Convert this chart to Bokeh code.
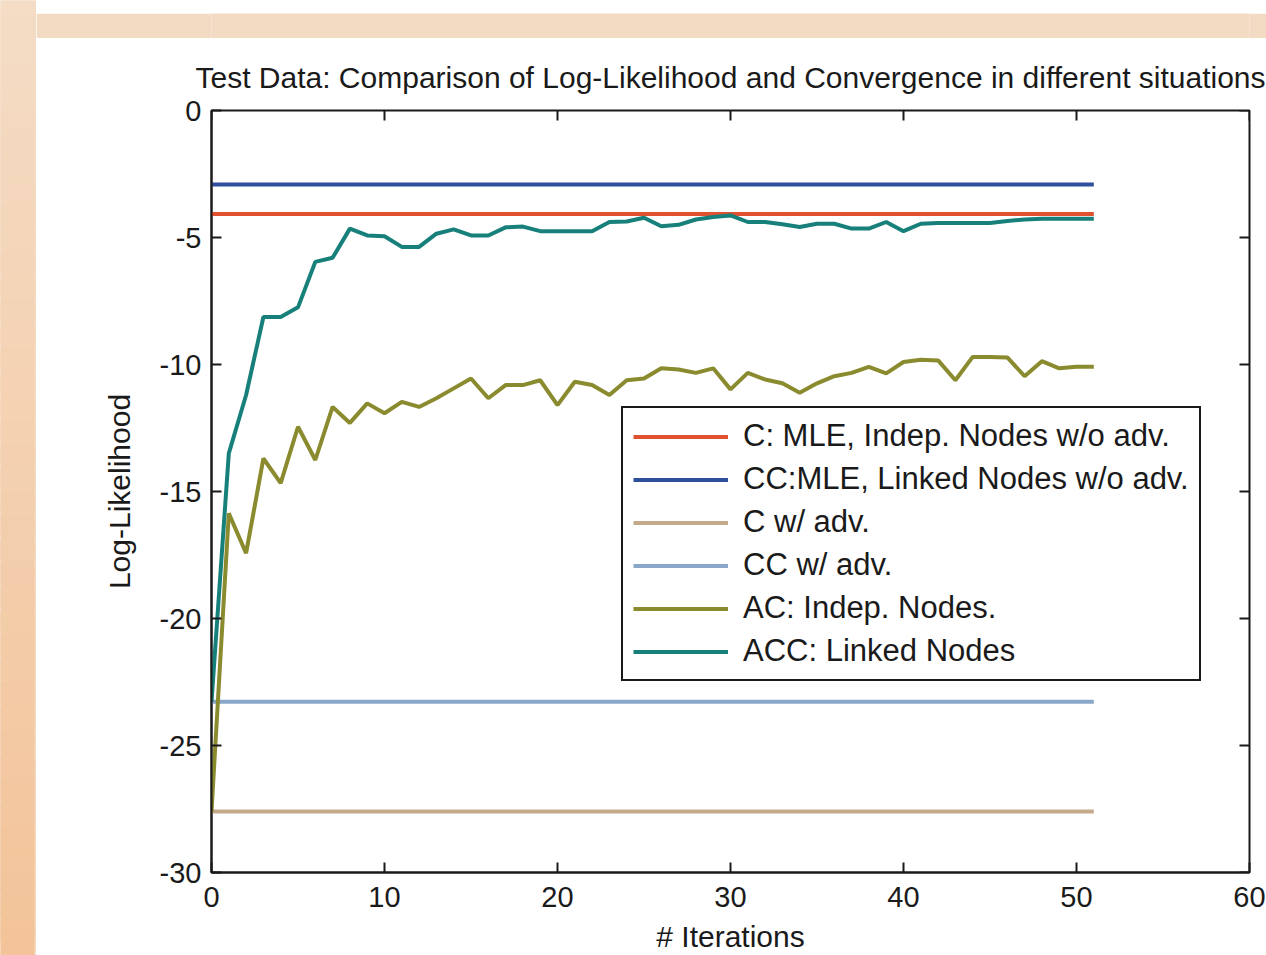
from bokeh.plotting import figure
from bokeh.models import Range1d, FixedTicker, Legend, LegendItem, Spacer, CustomJSTickFormatter
from bokeh.layouts import row, column
from bokeh.embed import file_html
from bokeh.resources import INLINE

# ---- data ----
iterations = list(range(52))
x_ticks = [0, 10, 20, 30, 40, 50, 60]
y_ticks = [0, -5, -10, -15, -20, -25, -30]

c_mle = -4.07          # C: MLE, Indep. Nodes w/o adv.
cc_mle = -2.91         # CC:MLE, Linked Nodes w/o adv.
c_adv = -27.6          # C w/ adv.
cc_adv = -23.28        # CC w/ adv.

ac_indep = [-27.6, -15.86, -17.43, -13.7, -14.67, -12.45, -13.76, -11.67, -12.3, -11.53,
            -11.92, -11.47, -11.67, -11.33, -10.94, -10.55, -11.33, -10.81, -10.81, -10.62,
            -11.6, -10.68, -10.81, -11.2, -10.62, -10.55, -10.15, -10.2, -10.33, -10.15,
            -10.98, -10.33, -10.59, -10.74, -11.11, -10.74, -10.46, -10.33, -10.09, -10.35,
            -9.9, -9.81, -9.84, -10.62, -9.7, -9.7, -9.72, -10.46, -9.87, -10.15,
            -10.09, -10.09]
acc_linked = [-23.28, -13.5, -11.2, -8.13, -8.13, -7.75, -5.96, -5.8, -4.65, -4.92,
              -4.95, -5.37, -5.37, -4.85, -4.68, -4.92, -4.92, -4.6, -4.57, -4.75,
              -4.75, -4.75, -4.75, -4.39, -4.37, -4.22, -4.56, -4.5, -4.29, -4.19,
              -4.13, -4.39, -4.39, -4.48, -4.59, -4.46, -4.46, -4.65, -4.65, -4.39,
              -4.75, -4.46, -4.43, -4.43, -4.43, -4.43, -4.35, -4.29, -4.26, -4.26,
              -4.26, -4.26]

labels = ["C: MLE, Indep. Nodes w/o adv.", "CC:MLE, Linked Nodes w/o adv.", "C w/ adv.",
          "CC w/ adv.", "AC: Indep. Nodes.", "ACC: Linked Nodes"]
colors = ["#e0522f", "#2f4f9c", "#c4a98a", "#8aa6c8", "#8a8a2e", "#17807a"]

title_text = "Test Data: Comparison of Log-Likelihood and Convergence in different situations"
FONT = "Liberation Sans"
INK = "#1a1a1a"

# ---- decorative page background ----
strip = figure(width=36, height=955, x_range=Range1d(0, 1), y_range=Range1d(0, 1),
               output_backend="svg", toolbar_location=None, min_border=0,
               background_fill_color="#f3dbc3", border_fill_color="#f3dbc3")
strip.axis.visible = False
strip.grid.visible = False
strip.outline_line_color = None
n = 40
top_c = (244, 220, 197)
bot_c = (243, 196, 154)
bands_b, bands_t, bands_col = [], [], []
for i in range(n):
    f = i / (n - 1)
    c = tuple(int(round(top_c[k] + (bot_c[k] - top_c[k]) * f)) for k in range(3))
    bands_t.append(1 - i / n + 0.01)
    bands_b.append(1 - (i + 1) / n - 0.01)
    bands_col.append("#%02x%02x%02x" % c)
strip.quad(left=-0.1, right=0.93, bottom=bands_b, top=bands_t, fill_color=bands_col,
           line_color=bands_col, line_width=1)

band = figure(width=1230, height=25, output_backend="svg", toolbar_location=None, min_border=0,
              background_fill_color="#f3dbc3", border_fill_color="#f3dbc3")
band.axis.visible = False
band.grid.visible = False
band.outline_line_color = None

# ---- main chart ----
p = figure(width=1230, height=917, x_range=Range1d(0, 60), y_range=Range1d(-30, 0),
           output_backend="svg", toolbar_location=None,
           min_border_left=175, min_border_right=17, min_border_top=72, min_border_bottom=82,
           background_fill_color="white", border_fill_color="white")
p.grid.visible = False
p.outline_line_color = INK
p.outline_line_width = 2

p.title.text = title_text
p.title.align = "center"
p.title.vertical_align = "middle"
p.title.offset = -6
p.title.text_font = FONT
p.title.text_font_style = "normal"
p.title.text_font_size = "30px"
p.title.text_color = INK
p.title.standoff = 32

fmt = CustomJSTickFormatter(code="return tick.toString();")
for ax in (p.xaxis[0], p.yaxis[0]):
    ax.axis_line_color = INK
    ax.axis_line_width = 2
    ax.major_tick_line_color = INK
    ax.major_tick_line_width = 2
    ax.major_tick_in = 10
    ax.major_tick_out = 0
    ax.minor_tick_line_color = None
    ax.major_label_text_font = FONT
    ax.major_label_text_color = INK
    ax.major_label_text_font_size = "29px"
    ax.axis_label_text_font = FONT
    ax.axis_label_text_font_size = "30px"
    ax.axis_label_text_font_style = "normal"
    ax.axis_label_text_color = INK
    ax.formatter = fmt

p.xaxis.ticker = FixedTicker(ticks=x_ticks)
p.yaxis.ticker = FixedTicker(ticks=y_ticks)
p.xaxis.axis_label = "# Iterations"
p.yaxis.axis_label = "Log-Likelihood"
p.xaxis.major_label_standoff = 14
p.xaxis.axis_label_standoff = 10
p.yaxis.major_label_standoff = 10
p.yaxis.axis_label_standoff = 21

# inward ticks on the top and right edges of the box
p.ray(x=x_ticks, y=[0] * len(x_ticks), length=10, length_units="screen", angle=-90,
      angle_units="deg", line_color=INK, line_width=2)
p.ray(x=[60] * len(y_ticks), y=y_ticks, length=10, length_units="screen", angle=180,
      angle_units="deg", line_color=INK, line_width=2)

series = [[c_mle] * len(iterations), [cc_mle] * len(iterations), [c_adv] * len(iterations),
          [cc_adv] * len(iterations), ac_indep, acc_linked]
items = []
for lab, col, ys in zip(labels, colors, series):
    r = p.line(iterations, ys, line_color=col, line_width=4)
    items.append(LegendItem(label=lab, renderers=[r]))

legend = Legend(items=items, location=(410, 191), margin=0, padding=10,
                glyph_width=95, glyph_height=33, label_height=33, spacing=7,
                label_standoff=15, label_text_font=FONT, label_text_font_size="31px",
                label_text_color=INK, border_line_color=INK, border_line_width=2,
                border_line_alpha=1, background_fill_color="white", background_fill_alpha=1)
p.add_layout(legend)

layout = row(strip, column(Spacer(width=1230, height=13), band, p))

open("out.html", "w").write(file_html(layout, INLINE))
